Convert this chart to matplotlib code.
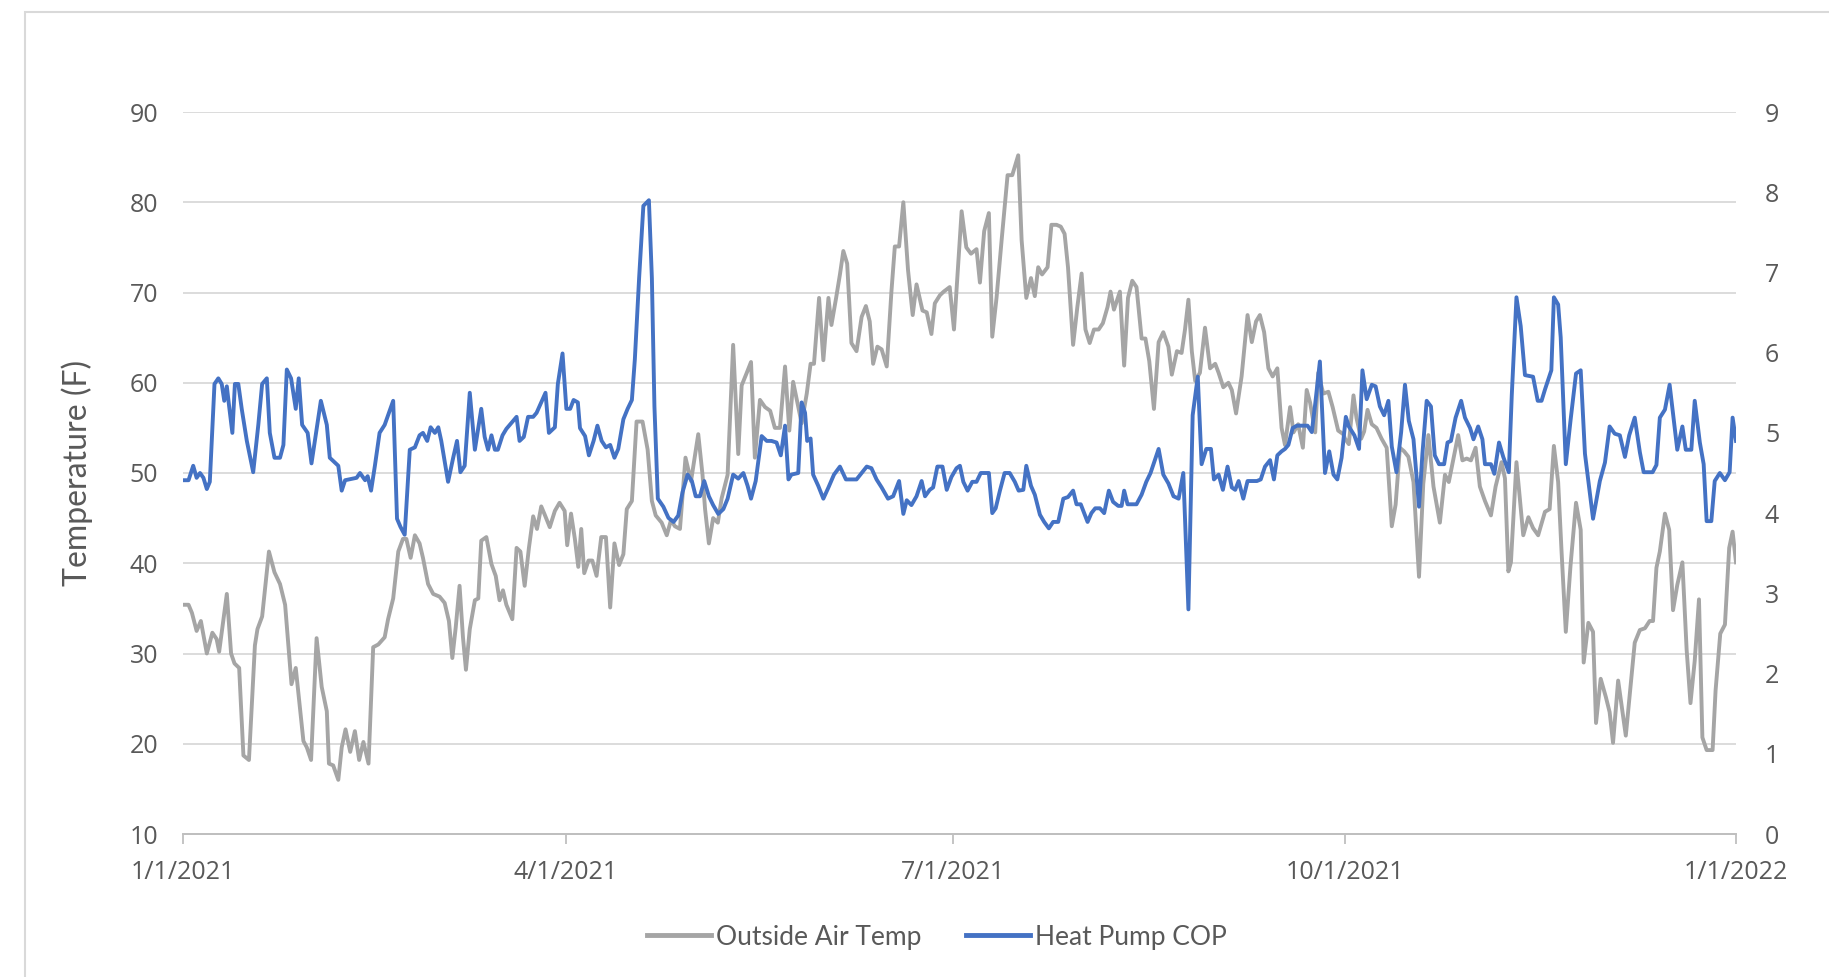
import matplotlib
matplotlib.use('Agg')
import matplotlib.pyplot as plt
from matplotlib.patches import Rectangle
import pandas as pd

# daily outside air temperature (F), sampled at the turning points of the trace
temp_days = [
    0, 1.3, 2.1, 3.2, 4.2, 5.6, 6.9, 7.9, 8.5, 10.3, 11.3, 12.1, 13.2, 14.2, 15.5,
    16.9, 17.5, 18.6, 20.2, 21.5, 22.8, 24.0, 25.5, 26.5, 28.3, 29.1, 30.1, 31.4,
    32.6, 33.8, 34.3, 35.3, 36.5, 37.3, 38.2, 39.3, 40.4, 41.4, 42.4, 43.6, 44.7,
    45.9, 47.4, 48.2, 49.4, 50.6, 51.7, 52.5, 53.5, 54.5, 55.6, 56.4, 57.6, 58.8,
    60.3, 61.5, 62.5, 63.3, 64.1, 65.0, 65.8, 66.5, 67.4, 68.6, 69.4, 70.1, 71.3,
    72.5, 73.5, 74.4, 75.2, 76.0, 77.4, 78.4, 79.3, 80.3, 81.3, 82.3, 83.2, 84.2,
    85.0, 86.2, 87.4, 88.5, 89.7, 90.3, 91.2, 92.1, 92.9, 93.6, 94.3, 95.3, 96.2,
    97.2, 98.3, 99.4, 100.4, 101.4, 102.5, 103.5, 104.3, 105.5, 106.6, 108.0,
    109.2, 110.2, 111.1, 112.5, 113.7, 114.7, 115.6, 116.8, 118.1, 119.4, 121.1,
    122.1, 122.7, 123.6, 124.6, 125.7, 126.6, 128.0, 129.3, 130.5, 131.3, 132.5,
    133.5, 134.4, 135.6, 136.8, 138.0, 139.1, 140.3, 141.5, 142.5, 143.4, 144.4,
    145.4, 146.6, 147.5, 148.3, 149.5, 150.5, 151.7, 152.4, 153.5, 154.4, 155.2,
    156.1, 157.1, 158.3, 159.5, 160.5, 161.4, 162.2, 163.2, 164.2, 165.4, 166.5,
    167.3, 168.3, 169.3, 170.4, 171.5, 172.4, 173.8, 174.8, 175.9, 176.7, 177.9,
    178.8, 180.2, 181.2, 183.0, 184.1, 185.2, 186.5, 187.3, 188.3, 189.4, 190.2,
    191.2, 192.4, 193.8, 194.9, 196.3, 197.1, 198.2, 199.3, 200.2, 201.0, 201.9,
    203.2, 204.1, 205.3, 206.3, 207.2, 208.0, 209.2, 210.2, 211.2, 212.1, 213.1,
    214.1, 215.2, 216.2, 217.3, 218.0, 218.8, 219.5, 220.2, 221.2, 222.1, 223.1,
    224.1, 225.3, 226.2, 227.1, 228.2, 229.3, 230.4, 231.6, 232.4, 233.6, 234.7,
    235.5, 236.3, 237.1, 237.9, 239.0, 240.2, 241.4, 242.6, 243.4, 244.5, 245.7,
    246.5, 247.5, 248.8, 250.2, 251.2, 252.2, 253.1, 254.1, 255.1, 256.1, 257.2,
    258.2, 259.0, 260.2, 261.0, 262.1, 263.2, 264.1, 264.9, 266.1, 266.8, 268.0,
    269.2, 270.2, 271.5, 272.7, 273.1, 274.0, 275.1, 275.8, 276.9, 277.6, 278.4,
    279.4, 280.5, 281.7, 282.9, 284.1, 285.0, 286.0, 287.0, 288.0, 289.2, 290.5,
    291.5, 292.7, 293.9, 295.4, 296.6, 297.5, 298.6, 299.7, 300.7, 301.7, 302.7,
    303.8, 304.8, 306.0, 307.4, 308.5, 309.9, 310.7, 311.5, 312.1, 313.4, 315.0,
    316.2, 317.3, 318.5, 320.1, 321.2, 322.2, 323.2, 324.0, 325.0, 326.1, 327.4,
    328.5, 329.2, 330.3, 331.4, 332.1, 333.2, 334.4, 335.3, 336.1, 337.3, 339.1,
    340.2, 341.2, 342.4, 343.6, 344.7, 345.5, 346.3, 347.1, 348.3, 349.3, 350.2,
    351.2, 352.4, 353.4, 354.3, 355.3, 356.3, 357.1, 358.1, 359.5, 360.2, 361.3,
    362.4, 363.4, 364.2, 365.0,
]
temp_vals = [
    35.4, 35.4, 34.5, 32.5, 33.6, 30.0, 32.3, 31.6, 30.2, 36.6, 30.0, 28.9, 28.4, 18.7, 18.2,
    30.9, 32.7, 34.1, 41.3, 39.0, 37.7, 35.4, 26.6, 28.4, 20.3, 19.6, 18.2, 31.7,
    26.3, 23.6, 17.8, 17.6, 16.0, 19.6, 21.6, 19.1, 21.4, 18.2, 20.2, 17.8, 30.7,
    31.0, 31.8, 33.8, 36.1, 41.3, 42.7, 42.7, 40.6, 43.1, 42.2, 40.6, 37.7, 36.6,
    36.3, 35.6, 33.6, 29.5, 32.9, 37.5, 31.8, 28.2, 32.7, 35.9, 36.1, 42.5, 42.9,
    39.9, 38.6, 35.9, 37.0, 35.4, 33.8, 41.7, 41.3, 37.5, 41.7, 45.2, 43.8, 46.3,
    45.4, 44.0, 45.8, 46.7, 45.8, 42.0, 45.5, 42.7, 39.6, 43.8, 38.9, 40.3, 40.3,
    38.6, 42.9, 42.9, 35.1, 42.2, 39.8, 41.0, 46.0, 46.9, 55.7, 55.7,
    52.6, 46.9, 45.3, 44.5, 43.1, 44.8, 44.1, 43.8, 51.7, 49.1, 54.3,
    49.8, 46.0, 42.2, 45.0, 44.5, 47.2, 49.8, 64.2, 52.1, 59.7, 61.1,
    62.3, 51.7, 58.1, 57.3, 56.9, 55.0, 55.0, 61.8, 54.7, 60.1, 57.8,
    55.5, 58.8, 62.1, 62.1, 69.4, 62.5, 69.4, 66.4, 69.4, 72.0, 74.6,
    73.2, 64.4, 63.5, 67.3, 68.5, 66.8, 62.1, 64.0, 63.7, 61.8, 70.1,
    75.1, 75.1, 80.0, 72.5, 67.5, 70.9, 68.0, 67.8, 65.4, 68.8, 69.7,
    70.1, 70.6, 65.9, 79.0, 75.0, 74.3, 74.8, 71.1, 76.8, 78.8, 65.1,
    69.4, 75.8, 83.0, 83.0, 85.2, 75.8, 69.4, 71.6, 69.6, 72.8, 72.0,
    72.8, 77.5, 77.5, 77.3, 76.5, 72.8, 64.2, 68.4, 72.1, 65.9, 64.4,
    65.9, 65.9, 66.6, 68.4, 70.1, 68.1, 69.1, 70.1, 61.9, 69.4, 71.3,
    70.6, 64.9, 64.9, 62.4, 57.1, 64.5, 65.6, 64.0, 60.9, 63.5, 63.3,
    65.9, 69.2, 63.5, 60.2, 61.1, 66.1, 61.6, 62.1, 61.1, 59.5, 60.0,
    59.2, 56.6, 60.7, 67.5, 64.5, 66.8, 67.5, 65.6, 61.6, 60.7, 61.6,
    55.0, 53.1, 57.3, 54.5, 55.4, 52.8, 59.2, 57.8, 54.5, 61.1, 58.8,
    59.0, 57.3, 54.7, 54.3, 53.8, 53.2, 58.6, 56.1, 53.8, 54.6, 57.0,
    55.4, 55.0, 53.8, 52.8, 44.1, 46.5, 52.8, 52.4, 51.8, 49.0, 38.5,
    48.8, 54.2, 48.5, 44.5, 49.8, 49.0, 51.6, 54.2, 51.4, 51.6, 51.4,
    52.8, 48.5, 46.9, 45.3, 48.5, 51.2, 49.4, 39.1, 40.1, 51.2, 43.1,
    45.1, 43.9, 43.1, 45.7, 46.0, 53.0, 49.0, 41.3, 32.4, 39.7, 46.7,
    43.7, 29.0, 33.4, 32.4, 22.3, 27.2, 25.2, 23.5, 20.1, 27.0, 20.9,
    26.3, 31.2, 32.6, 32.8, 33.6, 33.6, 39.5, 41.3, 45.5, 43.7, 34.8,
    37.6, 40.1, 30.4, 24.5, 29.2, 36.0, 20.7, 19.3, 19.3, 25.9, 32.2,
    33.2, 41.7, 43.5, 40.1,
]

# daily heat pump coefficient of performance, sampled the same way
cop_days = [
    0, 1.3, 2.4, 3.2, 4.0, 4.8, 5.6, 6.3, 7.4, 8.3, 9.1, 9.7, 10.3, 10.8, 11.6,
    12.2, 13.0, 13.8, 15.0, 16.5, 17.7, 18.6, 19.7, 20.4, 21.5, 22.8, 23.6, 24.4,
    25.4, 26.5, 27.2, 28.0, 29.3, 30.2, 32.4, 33.8, 34.5, 36.5, 37.3, 38.1, 40.8,
    41.6, 42.8, 43.4, 44.2, 45.1, 46.2, 47.4, 49.4, 50.3, 51.1, 52.1, 53.3, 54.5,
    55.6, 56.4, 57.4, 58.2, 59.2, 60.0, 60.7, 62.3, 63.5, 64.4, 65.2, 66.2, 67.4,
    68.6, 70.1, 70.9, 71.7, 72.5, 73.3, 74.0, 75.1, 76.0, 76.8, 77.6, 78.4, 79.1,
    80.1, 81.1, 82.3, 83.1, 84.2, 85.2, 86.0, 87.4, 88.1, 89.2, 90.1, 91.0, 91.8,
    92.8, 93.3, 94.5, 95.4, 96.5, 97.4, 98.4, 99.4, 100.4, 101.4, 102.3, 103.5,
    104.5, 105.5, 106.2, 107.2, 108.2, 109.5, 110.2, 110.8, 111.6, 112.9, 114.1,
    115.3, 116.4, 117.4, 118.6, 119.6, 120.5, 121.5, 122.5, 123.6, 124.6, 125.8,
    127.0, 128.0, 129.3, 130.5, 131.7, 132.7, 133.5, 134.6, 136.0, 137.2, 138.3,
    139.5, 140.5, 141.5, 142.3, 143.0, 144.6, 145.4, 146.2, 146.7, 147.5, 148.1,
    149.3, 150.5, 151.7, 153.0, 154.4, 155.8, 157.1, 158.3, 159.5, 160.7, 161.8,
    163.0, 164.2, 165.7, 166.9, 168.3, 169.3, 170.1, 171.2, 172.4, 173.6, 174.4,
    175.5, 176.3, 177.3, 178.5, 179.5, 180.6, 181.8, 182.6, 183.4, 184.4, 185.5,
    186.5, 187.5, 188.4, 189.4, 190.2, 191.0, 192.0, 193.1, 194.3, 195.5, 196.4,
    197.5, 198.2, 199.3, 200.2, 201.4, 202.4, 203.5, 204.5, 205.7, 206.9, 208.0,
    209.2, 210.0, 211.0, 211.8, 212.6, 213.5, 214.4, 215.5, 216.5, 217.6, 218.6,
    219.8, 220.6, 221.2, 222.0, 222.9, 224.1, 225.3, 226.4, 227.4, 229.3, 230.4,
    231.6, 232.8, 234.0, 235.1, 236.3, 237.3, 238.5, 239.4, 240.5, 241.6, 242.3,
    243.4, 244.4, 245.5, 246.5, 247.3, 248.1, 249.2, 250.2, 251.2, 252.4, 253.3,
    254.3, 255.5, 256.4, 257.2, 258.2, 259.0, 259.8, 260.8, 261.8, 263.2, 264.3,
    265.3, 266.1, 267.2, 268.4, 269.4, 270.4, 271.3, 272.3, 273.3, 274.0, 275.3,
    276.4, 277.2, 278.2, 279.4, 280.3, 281.3, 282.3, 283.3, 284.1, 285.2, 286.3,
    287.2, 288.1, 289.2, 290.5, 291.3, 292.3, 293.3, 294.2, 295.2, 296.4, 297.2,
    298.0, 299.1, 300.4, 301.3, 302.5, 303.3, 304.4, 305.4, 306.0, 307.4, 308.2,
    309.3, 310.3, 311.6, 312.3, 313.4, 314.4, 315.4, 317.3, 318.4, 319.3, 320.1,
    321.6, 322.2, 323.2, 323.8, 325.0, 326.1, 327.4, 328.5, 329.5, 331.4, 333.0,
    334.2, 335.3, 336.5, 337.7, 338.9, 339.9, 341.2, 342.4, 343.3, 345.4, 346.3,
    347.1, 348.3, 349.4, 350.4, 351.2, 352.4, 353.2, 354.5, 355.3, 356.5, 357.4,
    358.1, 359.2, 360.0, 361.2, 362.4, 363.5, 364.2, 365.0,
]
cop_vals = [
    4.41, 4.41, 4.59, 4.44, 4.50, 4.44, 4.30, 4.39, 5.61, 5.68, 5.61, 5.40, 5.58, 5.35, 5.00,
    5.61, 5.61, 5.30, 4.90, 4.51, 5.10, 5.61, 5.68, 5.00, 4.69, 4.69, 4.85, 5.79,
    5.68, 5.30, 5.68, 5.10, 5.00, 4.62, 5.40, 5.10, 4.69, 4.59, 4.28, 4.41, 4.44,
    4.50, 4.41, 4.46, 4.28, 4.59, 5.00, 5.10, 5.40, 3.93, 3.83, 3.73, 4.79, 4.82,
    4.97, 5.00, 4.90, 5.07, 5.00, 5.07, 4.90, 4.39, 4.69, 4.90, 4.51, 4.59, 5.50,
    4.79, 5.30, 4.95, 4.79, 4.97, 4.79, 4.79, 4.97, 5.05, 5.10, 5.15, 5.20, 4.90,
    4.95, 5.20, 5.20, 5.25, 5.38, 5.50, 5.00, 5.07, 5.61, 5.99, 5.30, 5.30, 5.41,
    5.38, 5.06, 4.96, 4.72, 4.90, 5.09, 4.90, 4.82, 4.85, 4.69, 4.80, 5.17,
    5.30, 5.41, 5.92, 6.93, 7.83, 7.90, 6.93, 5.33, 4.18, 4.08, 3.94,
    3.89, 3.97, 4.26, 4.48, 4.40, 4.21, 4.21, 4.40, 4.21, 4.10, 3.99,
    4.05, 4.18, 4.48, 4.43, 4.50, 4.34, 4.18, 4.40, 4.96, 4.90, 4.90,
    4.88, 4.72, 5.09, 4.42, 4.48, 4.50, 5.38, 5.25, 4.90, 4.93, 4.48,
    4.34, 4.18, 4.32, 4.48, 4.58, 4.42, 4.42, 4.42, 4.50, 4.58, 4.56,
    4.42, 4.32, 4.18, 4.21, 4.40, 3.99, 4.16, 4.10, 4.21, 4.40, 4.21,
    4.29, 4.32, 4.58, 4.58, 4.29, 4.45, 4.56, 4.59, 4.39, 4.28, 4.39,
    4.39, 4.50, 4.50, 4.50, 4.00, 4.06, 4.28, 4.50, 4.50, 4.39, 4.28,
    4.29, 4.59, 4.34, 4.23, 3.98, 3.89, 3.81, 3.89, 3.89, 4.18, 4.20,
    4.28, 4.11, 4.11, 4.00, 3.89, 4.00, 4.06, 4.06, 4.00, 4.28, 4.14,
    4.09, 4.09, 4.28, 4.11, 4.11, 4.11, 4.23, 4.39, 4.50, 4.80, 4.48,
    4.37, 4.21, 4.18, 4.50, 2.80, 5.22, 5.70, 4.61, 4.80, 4.80, 4.42,
    4.48, 4.29, 4.58, 4.32, 4.29, 4.40, 4.18, 4.40, 4.40, 4.40, 4.42,
    4.58, 4.66, 4.42, 4.72, 4.77, 4.80, 4.85, 5.06, 5.09, 5.09, 5.09,
    5.01, 5.36, 5.89, 4.50, 4.77, 4.48, 4.42, 4.69, 5.20, 5.08, 4.97,
    4.80, 5.78, 5.42, 5.60, 5.58, 5.33, 5.22, 5.40, 4.83, 4.51, 5.01,
    5.60, 5.15, 4.92, 4.08, 4.74, 5.40, 5.33, 4.72, 4.61, 4.61, 4.88,
    4.90, 5.19, 5.40, 5.19, 5.06, 4.92, 5.08, 4.92, 4.61, 4.61, 4.49,
    4.88, 4.70, 4.51, 5.47, 6.69, 6.33, 5.72, 5.70, 5.40, 5.40, 5.54,
    5.78, 6.69, 6.60, 6.19, 4.61, 5.15, 5.74, 5.78, 4.74, 3.93, 4.40,
    4.63, 5.08, 4.99, 4.97, 4.70, 4.97, 5.19, 4.76, 4.51, 4.51, 4.60,
    5.19, 5.29, 5.60, 5.15, 4.79, 5.08, 4.79, 4.79, 5.40, 4.88, 4.61,
    3.90, 3.90, 4.40, 4.50, 4.41, 4.51, 5.19, 4.90,
]

start_date = '2021-01-01'
tick_dates = ['2021-01-01', '2021-04-01', '2021-07-01', '2021-10-01', '2022-01-01']
tick_labels = ['1/1/2021', '4/1/2021', '7/1/2021', '10/1/2021', '1/1/2022']
temp_ticks = list(range(10, 91, 10))
cop_ticks = list(range(0, 10))

GRAY = '#a5a5a5'
BLUE = '#4472c4'
TEXT = '#595959'
GRID = '#d9d9d9'
NARROW = ['Liberation Sans Narrow', 'Lato', 'DejaVu Sans']

tick_pos = [(pd.Timestamp(d) - pd.Timestamp(start_date)).days for d in tick_dates]

fig = plt.figure(figsize=(18.29, 9.77), dpi=100)
fig.patches.append(Rectangle((25 / 1829, -0.1), 1.2, 1.1 - 12 / 977, transform=fig.transFigure,
                             fill=False, edgecolor=GRID, lw=1.5))

ax = fig.add_axes([183 / 1829, 1 - 834 / 977, (1736 - 183) / 1829, (834 - 112) / 977])
ax2 = ax.twinx()

l1, = ax.plot(temp_days, temp_vals, color=GRAY, lw=2.8, solid_joinstyle='round')
l2, = ax2.plot(cop_days, cop_vals, color=BLUE, lw=2.8, solid_joinstyle='round')

ax.set_xlim(tick_pos[0], tick_pos[-1])
ax.set_ylim(10, 90)
ax2.set_ylim(0, 9)
ax.set_yticks(temp_ticks)
ax2.set_yticks(cop_ticks)
ax.set_xticks(tick_pos)
ax.set_xticklabels(tick_labels)

ax.yaxis.grid(True, color=GRID, lw=1.3)
ax.set_axisbelow(True)
for a in (ax, ax2):
    for s in ('top', 'left', 'right'):
        a.spines[s].set_visible(False)
    a.spines['bottom'].set_color('#bfbfbf')
    a.spines['bottom'].set_linewidth(1.3)

ax.tick_params(axis='y', length=0, pad=18, labelcolor=TEXT, labelsize=18)
ax.tick_params(axis='x', length=7, width=1.3, color='#bfbfbf', pad=11.5, labelcolor=TEXT, labelsize=18)
for lab in ax.get_xticklabels() + ax.get_yticklabels():
    lab.set_fontfamily('Open Sans')

# COP scale labels, set out a little from the right edge of the plot
ax2.tick_params(axis='y', length=0, labelright=False)
right_edge = 1 + 29 / (1736 - 183)
for v in cop_ticks:
    ax2.text(right_edge, v, str(v), transform=ax2.get_yaxis_transform(),
             ha='left', va='center_baseline', family='Open Sans', fontsize=18, color=TEXT)

ax.set_ylabel('Temperature (F)', family=NARROW, fontsize=23, color=TEXT, labelpad=26)

fig.legend([l1, l2], ['Outside Air Temp', 'Heat Pump COP'], loc='center',
           bbox_to_anchor=(937 / 1829, 1 - 937 / 977), ncol=2, frameon=False,
           handlelength=2.4, handletextpad=0.2, columnspacing=1.7,
           prop={'family': NARROW, 'size': 19}, labelcolor=TEXT)
for h in fig.legends[0].get_lines():
    h.set_linewidth(3.5)

fig.savefig('out.png', dpi=100)
